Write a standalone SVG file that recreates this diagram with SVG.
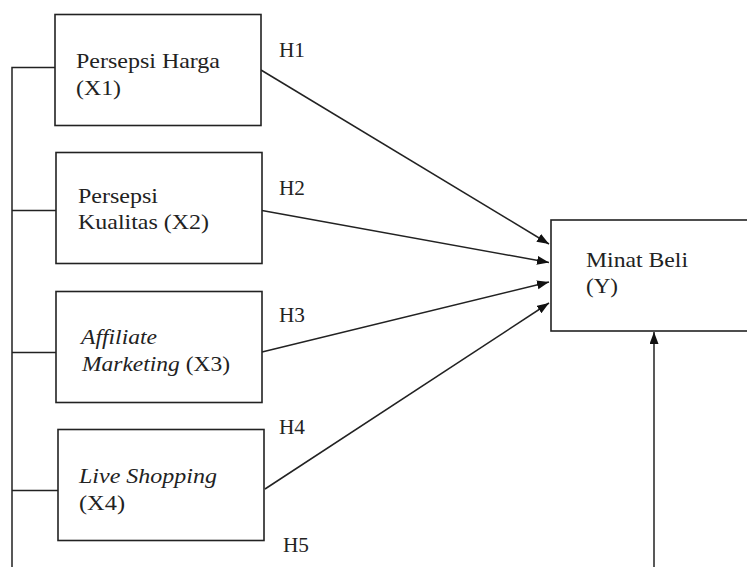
<svg xmlns="http://www.w3.org/2000/svg" width="747" height="567" viewBox="0 0 747 567">
<style>
.box{fill:#fff;stroke:#222;stroke-width:1.6}
.ln{fill:none;stroke:#222;stroke-width:1.5}
.t{font-family:"Liberation Serif","Times New Roman",serif;font-size:21px;fill:#222}
.i{font-style:italic}
</style>
<defs>
<marker id="ah" markerUnits="userSpaceOnUse" markerWidth="13" markerHeight="10" refX="12" refY="4.5" orient="auto">
<path d="M0,0 L12,4.5 L0,9 z" fill="#111"/>
</marker>
</defs>
<rect width="747" height="567" fill="#fff"/>
<g id="connectors">
<path class="ln" d="M55,67.5 H12 V567 M12,210.5 H56 M12,352.5 H56 M12,490.5 H58"/>
<line class="ln" x1="261" y1="70" x2="549" y2="244" marker-end="url(#ah)"/>
<line class="ln" x1="262" y1="210.5" x2="549" y2="262.5" marker-end="url(#ah)"/>
<line class="ln" x1="262" y1="352" x2="549" y2="282" marker-end="url(#ah)"/>
<line class="ln" x1="265" y1="489" x2="549" y2="303" marker-end="url(#ah)"/>
<line class="ln" x1="654" y1="567" x2="654" y2="332" marker-end="url(#ah)"/>
<text class="t" x="279" y="57" textLength="26" lengthAdjust="spacingAndGlyphs">H1</text>
<text class="t" x="279" y="195" textLength="26" lengthAdjust="spacingAndGlyphs">H2</text>
<text class="t" x="279" y="322" textLength="26" lengthAdjust="spacingAndGlyphs">H3</text>
<text class="t" x="279" y="434" textLength="26" lengthAdjust="spacingAndGlyphs">H4</text>
<text class="t" x="283" y="552" textLength="26" lengthAdjust="spacingAndGlyphs">H5</text>
</g>
<g id="x1">
<rect class="box" x="55" y="14.5" width="206" height="111"/>
<text class="t" x="76" y="68" textLength="144" lengthAdjust="spacingAndGlyphs">Persepsi Harga</text>
<text class="t" x="76" y="95" textLength="45" lengthAdjust="spacingAndGlyphs">(X1)</text>
</g>
<g id="x2">
<rect class="box" x="56" y="152.5" width="206" height="111"/>
<text class="t" x="78" y="203" textLength="80" lengthAdjust="spacingAndGlyphs">Persepsi</text>
<text class="t" x="78" y="229" textLength="131" lengthAdjust="spacingAndGlyphs">Kualitas (X2)</text>
</g>
<g id="x3">
<rect class="box" x="56" y="291.5" width="206" height="111"/>
<text class="t i" x="81" y="344" textLength="76" lengthAdjust="spacingAndGlyphs">Affiliate</text>
<text class="t" x="82" y="371" textLength="148" lengthAdjust="spacingAndGlyphs"><tspan class="i">Marketing</tspan> (X3)</text>
</g>
<g id="x4">
<rect class="box" x="58" y="429.5" width="206" height="111"/>
<text class="t i" x="79" y="483" textLength="138" lengthAdjust="spacingAndGlyphs">Live Shopping</text>
<text class="t" x="79" y="510" textLength="46" lengthAdjust="spacingAndGlyphs">(X4)</text>
</g>
<g id="y">
<rect class="box" x="551" y="220" width="210" height="111"/>
<text class="t" x="586" y="267" textLength="102" lengthAdjust="spacingAndGlyphs">Minat Beli</text>
<text class="t" x="586" y="293" textLength="32" lengthAdjust="spacingAndGlyphs">(Y)</text>
</g>
</svg>
